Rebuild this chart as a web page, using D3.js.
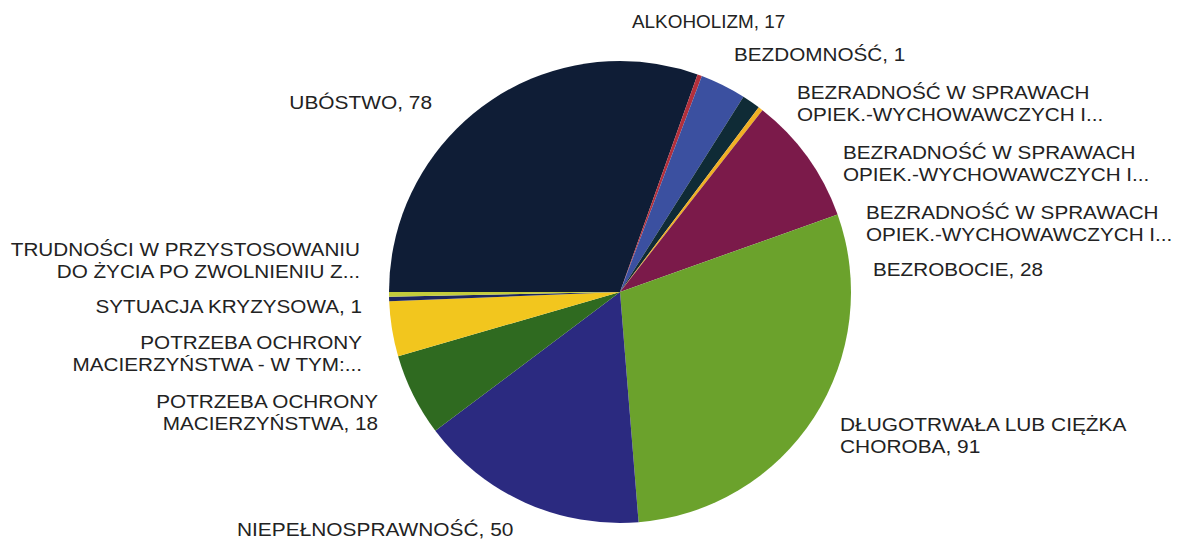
<!DOCTYPE html>
<html><head><meta charset="utf-8">
<script src="https://cdn.jsdelivr.net/npm/d3@7"></script>
<style>
html,body{margin:0;padding:0;background:#fff;}
text{font-family:"Liberation Sans",Arial,sans-serif;fill:#222;}
</style></head>
<body><svg id="c" width="1178" height="542"></svg>
<script>
// ---- data ----
const categories = [
  "ALKOHOLIZM",
  "BEZDOMNOŚĆ",
  "BEZRADNOŚĆ W SPRAWACH|OPIEK.-WYCHOWAWCZYCH I...",
  "BEZRADNOŚĆ W SPRAWACH|OPIEK.-WYCHOWAWCZYCH I...",
  "BEZRADNOŚĆ W SPRAWACH|OPIEK.-WYCHOWAWCZYCH I...",
  "BEZROBOCIE",
  "DŁUGOTRWAŁA LUB CIĘŻKA|CHOROBA",
  "NIEPEŁNOSPRAWNOŚĆ",
  "POTRZEBA OCHRONY|MACIERZYŃSTWA",
  "POTRZEBA OCHRONY|MACIERZYŃSTWA - W TYM:...",
  "SYTUACJA KRYZYSOWA",
  "TRUDNOŚCI W PRZYSTOSOWANIU|DO ŻYCIA PO ZWOLNIENIU Z...",
  "UBÓSTWO"
];
const values = [17, 1, 10, 4, 1, 28, 91, 50, 18, 12, 1, 1, 78];
const colors = ["#0f1d36","#b3303c","#3b50a0","#0f2b36","#f0b024","#7b1a4a","#6ba22c","#2b2a80","#2f6a20","#f2c61e","#1c2660","#c4cc3c","#0f1d36"];

// ---- layout (label anchors: x, y of first line, anchor, horizontal stretch) ----
const labelLayout = [
  [632, 28, "start", 1.05],
  [734, 61, "start", 1.15],
  [797, 99, "start", 1.15],
  [843, 159, "start", 1.15],
  [866, 219, "start", 1.15],
  [873, 276, "start", 1.15],
  [840, 431, "start", 1.16],
  [237, 536, "start", 1.16],
  [378, 408, "end", 1.15],
  [362, 349, "end", 1.15],
  [362, 313, "end", 1.15],
  [360, 256, "end", 1.15],
  [432, 109, "end", 1.16]
];

const svg = d3.select("#c");
const cx = 620, cy = 292, R = 231;
const g = svg.append("g").attr("transform", `translate(${cx},${cy})`);
const pie = d3.pie().sort(null).startAngle(0).endAngle(2*Math.PI);
const arcs = pie(values);
const arc = d3.arc().innerRadius(0).outerRadius(R);
g.selectAll("path").data(arcs).enter().append("path")
  .attr("d", arc).attr("fill", (d,i) => colors[i]);

const fs = 18, lh = 22;
categories.forEach((name, i) => {
  const [x, y, anchor, sx] = labelLayout[i];
  const lines = name.split("|");
  if (!name.endsWith("...")) lines[lines.length-1] += ", " + values[i];
  const t = svg.append("text")
    .attr("transform", `translate(${x},${y}) scale(${sx},1)`)
    .attr("text-anchor", anchor).attr("font-size", fs);
  lines.forEach((ln, j) => {
    t.append("tspan").attr("x", 0).attr("dy", j === 0 ? 0 : lh).text(ln);
  });
});
</script></body></html>
